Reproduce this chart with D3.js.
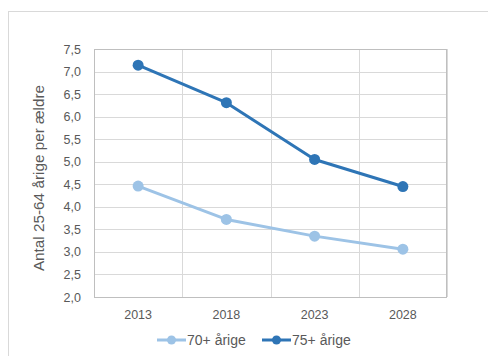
<!DOCTYPE html>
<html><head><meta charset="utf-8">
<script src="https://cdn.jsdelivr.net/npm/d3@7"></script>
<style>body{margin:0;background:#fff}svg{display:block}</style>
</head><body>
<svg id="c" width="488" height="356"></svg>
<script>
const years = ["2013","2018","2023","2028"];
const s70 = [4.46, 3.72, 3.35, 3.06];
const s75 = [7.14, 6.31, 5.05, 4.45];
const seriesNames = ["70+ årige","75+ årige"];
const seriesColors = ["#9DC3E6","#2E75B6"];
const yTicks = [2.0,2.5,3.0,3.5,4.0,4.5,5.0,5.5,6.0,6.5,7.0,7.5];
const yTitle = "Antal 25-64 årige per ældre";

const svg = d3.select("#c");
const font = "Liberation Sans, Arial, sans-serif";
const L=94, T=49, R=447, B=297;

svg.append("rect").attr("x",8.5).attr("y",11.5).attr("width",490).attr("height",360)
  .attr("fill","#fff").attr("stroke","#d9d9d9");

const x = d3.scaleBand().domain(years).range([L,R]).padding(0);
const y = d3.scaleLinear().domain([2,7.5]).range([B,T]);

const g = svg.append("g");
g.selectAll(".hg").data(yTicks).join("line")
  .attr("x1",L).attr("x2",R).attr("y1",d=>Math.round(y(d))+0.5).attr("y2",d=>Math.round(y(d))+0.5)
  .attr("stroke","#d9d9d9").attr("stroke-width",1);
const vb = years.map(d=>x(d)).concat([R]);
g.selectAll(".vg").data(vb).join("line")
  .attr("x1",d=>Math.round(d)+0.5).attr("x2",d=>Math.round(d)+0.5).attr("y1",T).attr("y2",B)
  .attr("stroke","#d9d9d9");
svg.append("rect").attr("x",L+0.5).attr("y",T+0.5).attr("width",R-L-1).attr("height",B-T)
  .attr("fill","none").attr("stroke","#bfbfbf");

const yAxis = d3.axisLeft(y).tickValues(yTicks).tickSize(0).tickPadding(13)
  .tickFormat(d=>d3.format(".1f")(d).replace(".",","));
const ya = svg.append("g").attr("transform",`translate(${L},0)`).call(yAxis);
ya.select(".domain").remove();
ya.selectAll("text").attr("font-family",font).attr("font-size",12.5).attr("fill","#595959");

const xAxis = d3.axisBottom(x).tickSize(0).tickPadding(13);
const xa = svg.append("g").attr("transform",`translate(0,${B})`).call(xAxis);
xa.select(".domain").remove();
xa.selectAll("text").attr("font-family",font).attr("font-size",12.5).attr("fill","#595959");

svg.append("text").attr("transform",`translate(44,178) rotate(-90)`)
  .attr("text-anchor","middle").attr("font-family",font).attr("font-size",15.3).attr("fill","#595959")
  .text(yTitle);

const line = d3.line().x((d,i)=>x(years[i])+x.bandwidth()/2).y(d=>y(d));
[s70,s75].forEach((s,k)=>{
  svg.append("path").datum(s).attr("d",line).attr("fill","none")
    .attr("stroke",seriesColors[k]).attr("stroke-width",3).attr("stroke-linejoin","round");
  svg.selectAll(".p"+k).data(s).join("circle")
    .attr("cx",(d,i)=>x(years[i])+x.bandwidth()/2).attr("cy",d=>y(d)).attr("r",5.5)
    .attr("fill",seriesColors[k]);
});

const lx = [157, 262];
seriesNames.forEach((n,k)=>{
  const lg = svg.append("g").attr("transform",`translate(${lx[k]},340)`);
  lg.append("line").attr("x1",0).attr("x2",29).attr("stroke",seriesColors[k]).attr("stroke-width",3);
  lg.append("circle").attr("cx",14.5).attr("r",4.5).attr("fill",seriesColors[k]);
  lg.append("text").attr("x",30).attr("y",0).attr("dy","0.35em").attr("font-family",font)
    .attr("font-size",14).attr("fill","#595959").text(n);
});
</script>
</body></html>
